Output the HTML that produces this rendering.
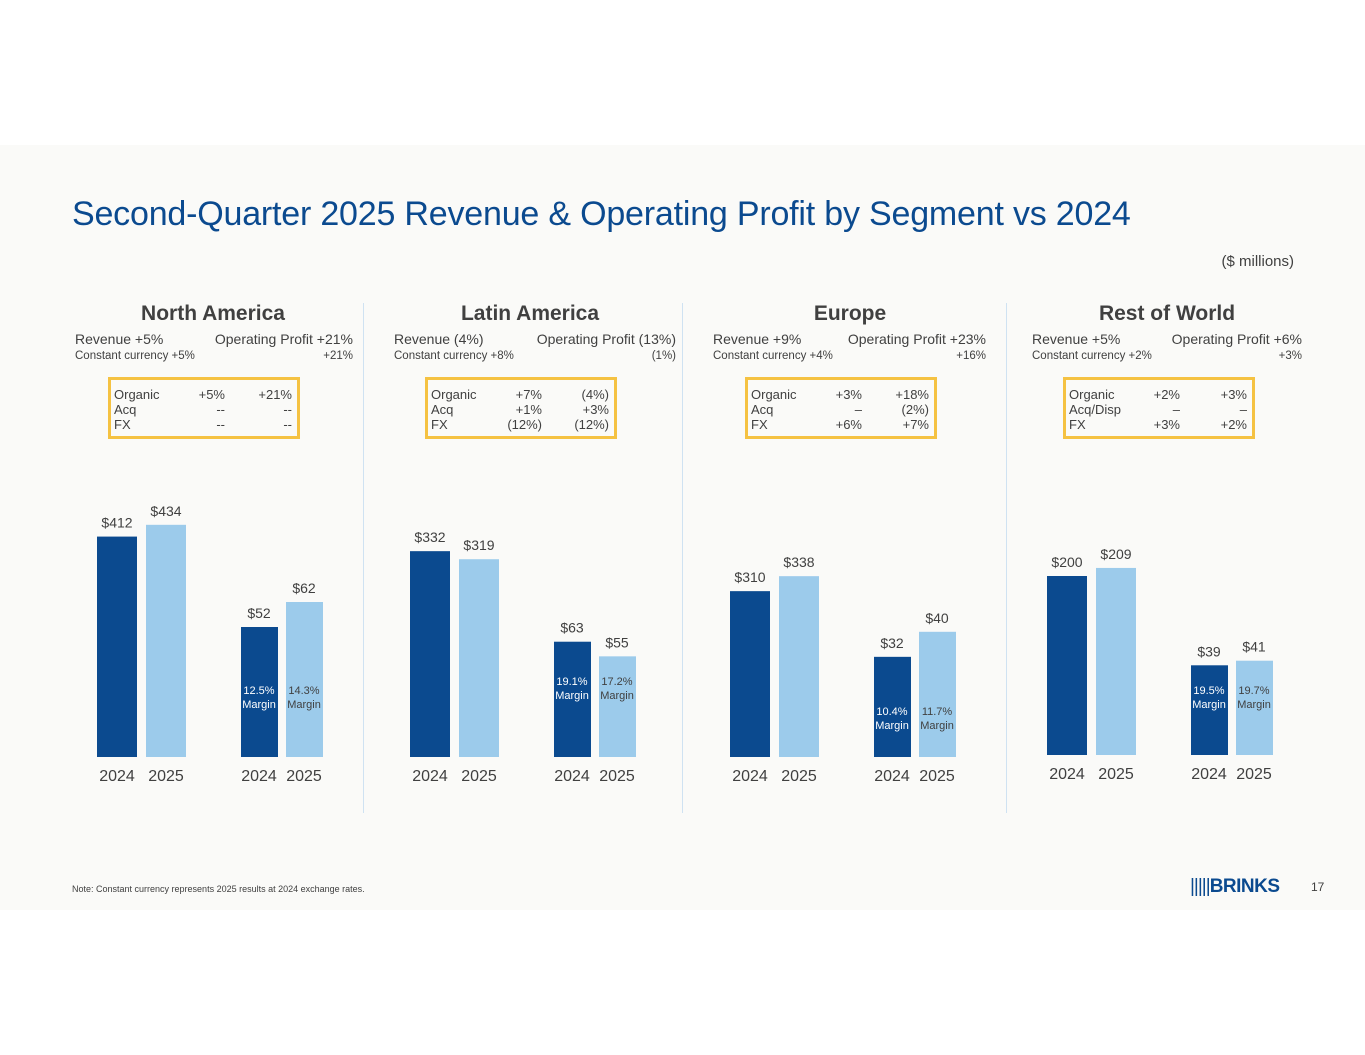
<!DOCTYPE html>
<html><head><meta charset="utf-8">
<style>
body{margin:0;width:1365px;height:1055px;background:#fff;font-family:"Liberation Sans",sans-serif;position:relative;overflow:hidden;color:#404040}
#slide{position:absolute;left:0;top:145px;width:1365px;height:765px;background:#fafaf8}
.abs{position:absolute;white-space:nowrap}
.title{left:72px;top:195px;font-size:34px;color:#0b4a8f;letter-spacing:-0.2px}
.hdr{font-size:21px;font-weight:bold;color:#404040;text-align:center;width:280px}
.s13{font-size:14px}.s10{font-size:11.5px}
.box{position:absolute;border:3px solid #f5c242;width:192px;font-size:13px;line-height:15px;box-sizing:border-box;height:62px;padding-top:7px}
.div{position:absolute;width:1px;background:#cfe2f2;top:303px;height:510px}
</style></head><body>
<div id="slide"></div>
<div class="abs title">Second-Quarter 2025 Revenue &amp; Operating Profit by Segment vs 2024</div>
<div class="abs" style="left:1094px;width:200px;text-align:right;top:253px;font-size:15px">($ millions)</div>
<div class="div" style="left:363px"></div>
<div class="div" style="left:682px"></div>
<div class="div" style="left:1006px"></div>
<div id="panels"></div>
<svg id="chart" width="1365" height="1055" style="position:absolute;left:0;top:0"></svg>
<div class="abs" style="left:72px;top:884px;font-size:9px">Note: Constant currency represents 2025 results at 2024 exchange rates.</div>
<div class="abs" style="left:1190px;top:876px;font-size:19px;font-weight:900;color:#0b4a8f;letter-spacing:-0.5px"><span style="letter-spacing:-1px;font-weight:normal">|||||</span>BRINKS</div>
<div class="abs" style="left:1311px;top:880px;font-size:12px">17</div>
<script>
const segments=["North America","Latin America","Europe","Rest of World"];
const rev2024=[412,332,310,200];
const rev2025=[434,319,338,209];
const op2024=[52,63,32,39];
const op2025=[62,55,40,41];
const margin2024=["12.5%","19.1%","10.4%","19.5%"];
const margin2025=["14.3%","17.2%","11.7%","19.7%"];
const revLabel=["Revenue +5%","Revenue (4%)","Revenue +9%","Revenue +5%"];
const ccLabel=["Constant currency +5%","Constant currency +8%","Constant currency +4%","Constant currency +2%"];
const opLabel=["Operating Profit +21%","Operating Profit (13%)","Operating Profit +23%","Operating Profit +6%"];
const opcc=["+21%","(1%)","+16%","+3%"];
const bridgeRows=[["Organic","Acq","FX"],["Organic","Acq","FX"],["Organic","Acq","FX"],["Organic","Acq/Disp","FX"]];
const bridgeRev=[["+5%","--","--"],["+7%","+1%","(12%)"],["+3%","–","+6%"],["+2%","–","+3%"]];
const bridgeOp=[["+21%","--","--"],["(4%)","+3%","(12%)"],["+18%","(2%)","+7%"],["+3%","–","+2%"]];
// layout (styles)
const px=[97,410,730,1047], revScale=[0.535,0.62,0.535,0.895], opScale=[2.5,1.83,3.13,2.3], base=[757,757,757,755];
const hdrCenter=[213,530,850,1167], lblL=[75,394,713,1032], lblR=[353,676,986,1302], boxL=[108,425,745,1063], marginY=[694,685,715,694];
const svg=document.getElementById('chart'),NS="http://www.w3.org/2000/svg";
const panels=document.getElementById('panels');
function txt(x,y,s,size,fill,anchor){const t=document.createElementNS(NS,'text');t.setAttribute('x',x);t.setAttribute('y',y);t.setAttribute('font-size',size);t.setAttribute('fill',fill);t.setAttribute('text-anchor',anchor||'middle');t.setAttribute('font-family','Liberation Sans, sans-serif');t.textContent=s;svg.appendChild(t);return t;}
function bar(x,w,v,sc,b,col){const r=document.createElementNS(NS,'rect');const h=v*sc;r.setAttribute('x',x);r.setAttribute('y',b-h);r.setAttribute('width',w);r.setAttribute('height',h);r.setAttribute('fill',col);svg.appendChild(r);return r;}
function div(x,y,html,cls,style){const d=document.createElement('div');d.className='abs '+cls;d.style.left=x+'px';d.style.top=y+'px';if(style)d.style.cssText+=style;d.innerHTML=html;panels.appendChild(d);return d;}
segments.forEach((s,i)=>{
  const x0=px[i];
  let e=div(hdrCenter[i]-140,302,s,'hdr');
  
  
  e=div(lblL[i],331,revLabel[i],'s13');
  e=div(lblL[i],350,ccLabel[i],'s10');
  e=div(lblR[i]-300,331,opLabel[i],'s13','width:300px;text-align:right');
  e=div(lblR[i]-300,350,opcc[i],'s10','width:300px;text-align:right');
  const bx=document.createElement('div');bx.className='box';bx.style.left=boxL[i]+'px';bx.style.top='377px';
  
  
  let h='';for(let r=0;r<3;r++){h+=`<div style="position:relative;height:15px;padding-left:3px">${bridgeRows[i][r]}<span style="position:absolute;right:72px">${bridgeRev[i][r]}</span><span style="position:absolute;right:5px">${bridgeOp[i][r]}</span></div>`;}
  bx.innerHTML=h;panels.appendChild(bx);
  const b=base[i];
  let r=bar(x0,40,rev2024[i],revScale[i],b,'#0b4a8f');
  r=bar(x0+49,40,rev2025[i],revScale[i],b,'#9ccbeb');
  txt(x0+20,b-rev2024[i]*revScale[i]-9,'$'+rev2024[i],14,'#404040');
  txt(x0+69,b-rev2025[i]*revScale[i]-9,'$'+rev2025[i],14,'#404040');
  const ox=x0+144;
  r=bar(ox,37,op2024[i],opScale[i],b,'#0b4a8f');
  r=bar(ox+45,37,op2025[i],opScale[i],b,'#9ccbeb');
  txt(ox+18,b-op2024[i]*opScale[i]-9,'$'+op2024[i],14,'#404040');
  txt(ox+63,b-op2025[i]*opScale[i]-9,'$'+op2025[i],14,'#404040');
  const my=marginY[i];
  txt(ox+18,my,margin2024[i],11,'#fff');txt(ox+18,my+14,'Margin',11,'#fff');
  txt(ox+63,my,margin2025[i],11,'#404040');txt(ox+63,my+14,'Margin',11,'#404040');
  [[x0+20,'2024'],[x0+69,'2025'],[ox+18,'2024'],[ox+63,'2025']].forEach(a=>{const t=txt(a[0],b+24,a[1],16,'#404040');});
});
</script>
</body></html>
